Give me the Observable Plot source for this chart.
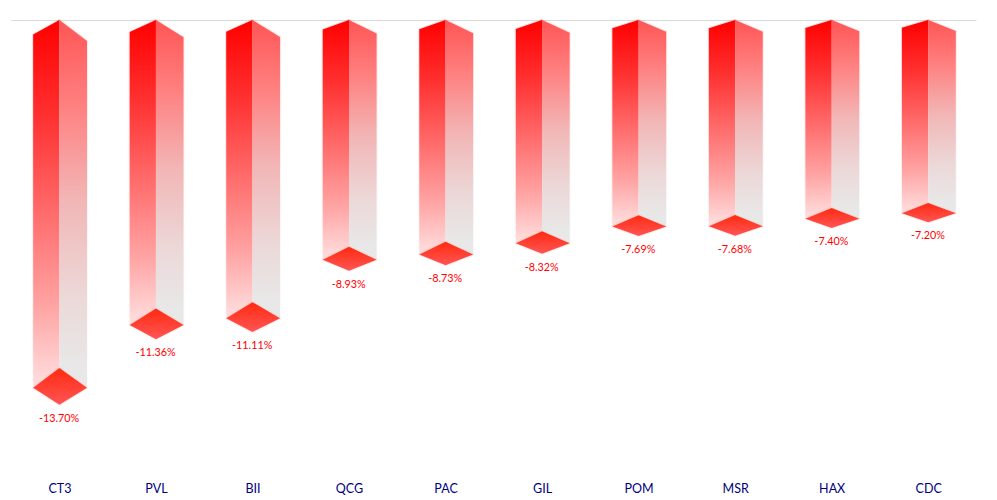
<!DOCTYPE html>
<html>
<head>
<meta charset="utf-8">
<style>html,body{margin:0;padding:0;background:#fff}svg{display:block}</style>
<script src="https://cdn.jsdelivr.net/npm/d3@7"></script>
<script src="https://cdn.jsdelivr.net/npm/@observablehq/plot@0.6"></script>
</head>
<body>
<div id="chart"></div>
<script>
const categories = ["CT3","PVL","BII","QCG","PAC","GIL","POM","MSR","HAX","CDC"];
const values = [-13.70,-11.36,-11.11,-8.93,-8.73,-8.32,-7.69,-7.68,-7.40,-7.20];

// Perspective of the 3D columns, as fractions of each bar's value
const topLeft = 0.042, topRight = 0.060, side = 0.057, bottom = 0.106, labelGap = 0.51;
const halfL = 0.272, halfR = 0.286;

const faces = (fn) => values.flatMap((v, i) => fn(v, i).map(p => ({...p, i})));
const leftFace = faces((v, i) => [
  {x: i - halfL, y1: v * topLeft, y2: v * (1 + side)},
  {x: i, y1: 0, y2: v}
]);
const rightFace = faces((v, i) => [
  {x: i, y1: 0, y2: v},
  {x: i + halfR, y1: v * topRight, y2: v * (1 + side)}
]);
const floorFace = faces((v, i) => [
  {x: i - halfL, y1: v * (1 + side), y2: v * (1 + side)},
  {x: i, y1: v, y2: v * (1 + bottom)},
  {x: i + halfR, y1: v * (1 + side), y2: v * (1 + side)}
]);

const gradient = (id, stops) => {
  const g = d3.create("svg:linearGradient").attr("id", id)
    .attr("x1", 0).attr("y1", 0).attr("x2", 0).attr("y2", 1);
  stops.forEach(([o, c]) => g.append("stop").attr("offset", o).attr("stop-color", c));
  return g.node();
};
const defs = () => {
  const d = d3.create("svg:defs");
  d.append(() => gradient("gLeft", [[0, "#ff0000"], [0.26, "#ff3030"], [0.52, "#ff6a6a"], [0.78, "#ffa4a4"], [1, "#ffe0e0"]]));
  d.append(() => gradient("gRight", [[0, "#ff5555"], [0.23, "#ff8080"], [0.49, "#f2b6b6"], [0.75, "#ecd8d8"], [0.95, "#e8e8e8"], [1, "#e8e8e8"]]));
  d.append(() => gradient("gFloor", [[0, "#ff2a10"], [1, "#ff5555"]]));
  return d.node();
};

const area = (data, fill) => Plot.area(data, {x1: "x", y1: "y1", y2: "y2", z: "i", fill});
const halo = (data, grad, strokeOpacity) => Plot.area(data, {
  x1: "x", y1: "y1", y2: "y2", z: "i",
  fill: "none", stroke: grad, strokeWidth: 2, strokeOpacity
});

const chart = Plot.plot({
  width: 997,
  height: 500,
  marginTop: 20,
  marginBottom: 12,
  marginLeft: 0,
  marginRight: 0,
  style: {fontFamily: "Lato, sans-serif", background: "#fff"},
  x: {domain: [0, 9], range: [59.4, 928.2]},
  y: {domain: [0, -14], range: [20, 20 + 14 * 25.4], axis: null},
  marks: [
    defs,
    Plot.ruleY([0], {x1: -0.5, x2: 9.5, stroke: "#d9d9d9"}),
    halo(leftFace, "url(#gLeft)", 0.15),
    halo(rightFace, "url(#gRight)", 0.15),
    area(leftFace, "url(#gLeft)"),
    area(rightFace, "url(#gRight)"),
    halo(floorFace, "url(#gFloor)", 0.1),
    area(floorFace, "url(#gFloor)"),
    Plot.text(values, {
      x: (v, i) => i,
      y: v => v * (1 + bottom + labelGap / Math.abs(v)),
      text: v => v.toFixed(2) + "%",
      fill: "#ff0000",
      fontSize: 10.8,
      dx: -0.8
    }),
    Plot.axisX({
      ticks: d3.range(categories.length),
      tickFormat: i => categories[i],
      tickSize: 0,
      tickPadding: 0,
      lineAnchor: "middle",
      label: null,
      fontSize: 12.5,
      fill: "#000080",
      color: "#000080"
    })
  ]
});
document.getElementById("chart").append(chart);
</script>
</body>
</html>
